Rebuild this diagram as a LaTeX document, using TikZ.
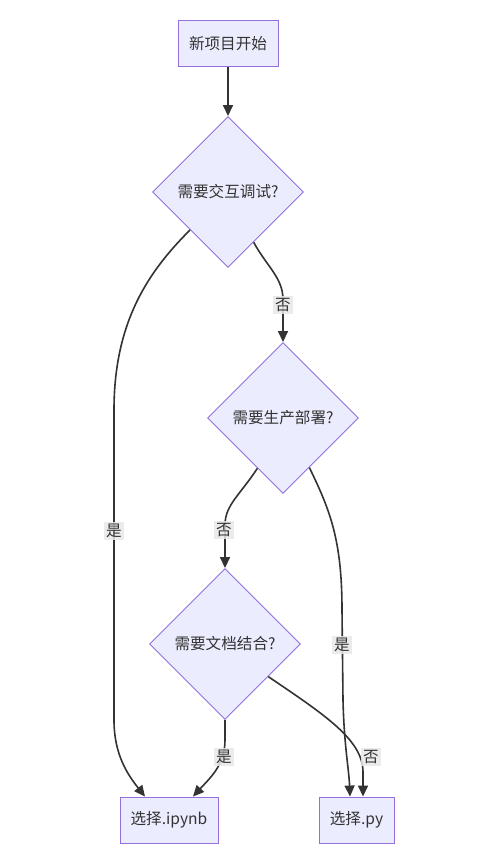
\documentclass[tikz,border=0pt]{standalone}
\usepackage{fontspec}
\setmainfont{Noto Sans CJK SC}
\usetikzlibrary{shapes.geometric,arrows.meta,calc}
\definecolor{nodefill}{HTML}{ECECFF}
\definecolor{nodeline}{HTML}{9370DB}
\definecolor{edgecol}{HTML}{333333}
\definecolor{lblfill}{HTML}{E8E8E8}
\begin{document}
\begin{tikzpicture}[x=1pt,y=-1pt,
  every node/.style={font=\fontsize{15.6}{18}\selectfont, text=edgecol},
  procbox/.style={draw=nodeline, fill=nodefill, line width=0.9pt, minimum height=46pt, inner sep=0pt},
  decision/.style={diamond, aspect=1, draw=nodeline, fill=nodefill, line width=0.9pt, minimum width=151pt, minimum height=151pt, inner sep=0pt},
  edge/.style={draw=edgecol, line width=1.6pt, -{Triangle[length=11pt,width=10pt]}},
  lbl/.style={fill=lblfill, fill opacity=0.85, text opacity=1, inner xsep=2pt, inner ysep=2.5pt}
]
\useasboundingbox (0,0) rectangle (483,865);
\fill[white] (0,0) rectangle (483,865);

\node[procbox, minimum width=100pt] (start) at (228,43.5) {新项目开始};
\node[decision] (d1) at (228,192) {需要交互调试?};
\node[decision] (d2) at (283,418) {需要生产部署?};
\node[decision] (d3) at (225,644) {需要文档结合?};
\node[procbox, minimum width=98pt] (ipy) at (169,820) {选择.ipynb};
\node[procbox, minimum width=75pt] (py) at (356.5,820) {选择.py};

\draw[edge] (start) -- (d1);
\draw[edge] (d1.south west) .. controls (150,270) and (114,320) .. (114,410) -- (114,720)
  .. controls (114,755) and (128,775) .. ($(ipy.north)+(-24,0)$);
\draw[edge] (d1.-63) .. controls (268,268) and (283,278) .. (283,300) -- (d2.north);
\draw[edge] (d2.-117) .. controls (240,495) and (225,505) .. (225,525) -- (d3.north);
\draw[edge] (d2.-62) .. controls (330,510) and (342,540) .. (342,610) -- (343,700)
  .. controls (344,745) and (349,770) .. ($(py.north)+(-6.5,0)$);
\draw[edge] (d3.-37) .. controls (325,715) and (363,740) .. (363,772) -- ($(py.north)+(6.5,0)$);
\draw[edge] (d3.south) -- (225,740) .. controls (225,765) and (210,778) .. ($(ipy.north)+(24,0)$);

\node[lbl] (l1) at (114,531) {是};
\node[lbl] (l2) at (283,305) {否};
\node[lbl] (l3) at (224,530) {否};
\node[lbl] (l4) at (342,645) {是};
\node[lbl] (l5) at (224,757) {是};
\node[lbl] (l6) at (371,757) {否};
\end{tikzpicture}
\end{document}
